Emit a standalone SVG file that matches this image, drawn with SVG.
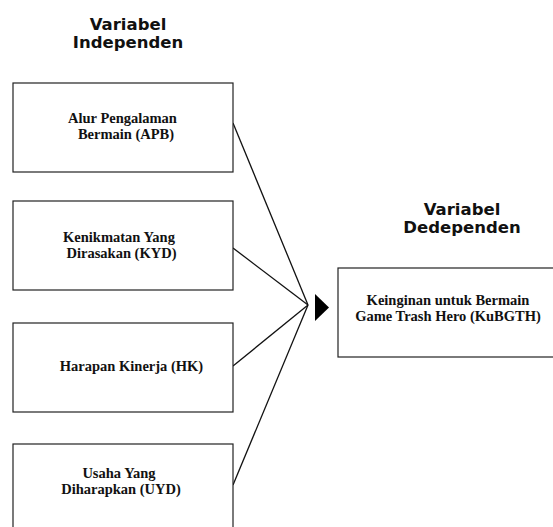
<svg xmlns="http://www.w3.org/2000/svg" width="553" height="527" viewBox="0 0 553 527">
<style>
.box{fill:#fff;stroke:#222;stroke-width:1.2}
.t{font-family:"Liberation Serif","Times New Roman",serif;font-weight:bold;font-size:14.5px;fill:#111;text-anchor:middle}
.h{font-family:"DejaVu Sans",Verdana,sans-serif;font-weight:bold;font-size:16.5px;fill:#111;text-anchor:middle}
.c{stroke:#111;stroke-width:1.3;fill:none}
</style>
<rect width="553" height="527" fill="#fff"/>
<g id="title-independen">
<text class="h" x="128" y="30">Variabel</text>
<text class="h" x="128" y="48">Independen</text>
</g>
<g id="title-dependen">
<text class="h" x="462" y="215">Variabel</text>
<text class="h" x="462" y="233">Dedependen</text>
</g>
<g id="connectors">
<line class="c" x1="233" y1="123" x2="308" y2="305"/>
<line class="c" x1="233" y1="248" x2="308" y2="305"/>
<line class="c" x1="233" y1="366" x2="308" y2="305"/>
<line class="c" x1="233" y1="485" x2="308" y2="305"/>
<polygon points="315,294 329,307.5 315,321" fill="#000"/>
</g>
<g id="apb">
<rect class="box" x="13" y="83" width="220" height="89"/>
<text class="t" x="122.5" y="123">Alur Pengalaman</text>
<text class="t" x="126" y="139">Bermain (APB)</text>
</g>
<g id="kyd">
<rect class="box" x="13" y="201" width="220" height="89"/>
<text class="t" x="119" y="242">Kenikmatan Yang</text>
<text class="t" x="121.5" y="258">Dirasakan (KYD)</text>
</g>
<g id="hk">
<rect class="box" x="13" y="323" width="220" height="89"/>
<text class="t" x="131.5" y="370.5">Harapan Kinerja (HK)</text>
</g>
<g id="uyd">
<rect class="box" x="13" y="444" width="220" height="89"/>
<text class="t" x="119" y="478">Usaha Yang</text>
<text class="t" x="121" y="494">Diharapkan (UYD)</text>
</g>
<g id="kubgth">
<rect class="box" x="338" y="268" width="220" height="89"/>
<text class="t" x="448" y="305">Keinginan untuk Bermain</text>
<text class="t" x="448" y="321">Game Trash Hero (KuBGTH)</text>
</g>
</svg>
